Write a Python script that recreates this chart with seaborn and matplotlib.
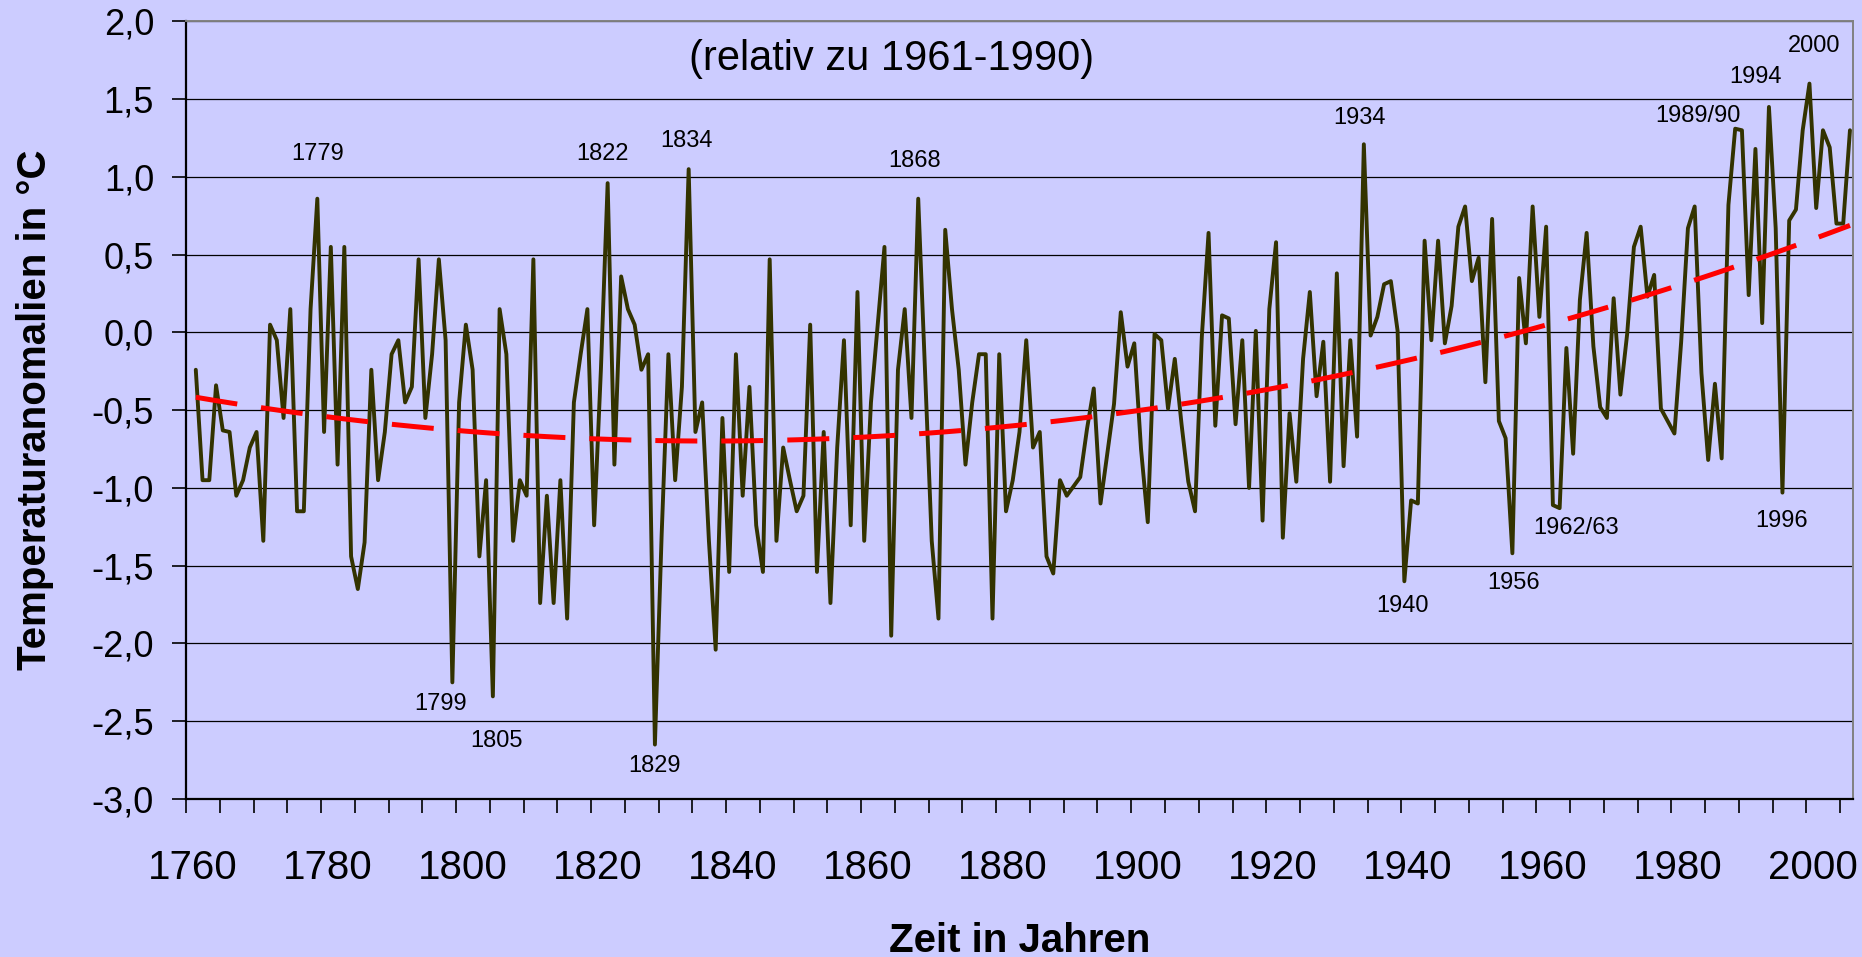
import numpy as np
import pandas as pd
import matplotlib
matplotlib.use("Agg")
import matplotlib.pyplot as plt
import seaborn as sns

# Jahresmittel-Anomalien (relativ zu 1961-1990)
years = list(range(1761, 2007))
anomalies = [
    -0.24, -0.95, -0.95, -0.34, -0.63, -0.64, -1.05, -0.95, -0.74, -0.64,   # 1761-1770
    -1.34, 0.05, -0.05, -0.55, 0.15, -1.15, -1.15, 0.15, 0.86, -0.64,       # 1771-1780
    0.55, -0.85, 0.55, -1.44, -1.65, -1.35, -0.24, -0.95, -0.64, -0.14,     # 1781-1790
    -0.05, -0.45, -0.35, 0.47, -0.55, -0.14, 0.47, -0.05, -2.25, -0.45,     # 1791-1800
    0.05, -0.24, -1.44, -0.95, -2.34, 0.15, -0.14, -1.34, -0.95, -1.05,     # 1801-1810
    0.47, -1.74, -1.05, -1.74, -0.95, -1.84, -0.45, -0.14, 0.15, -1.24,     # 1811-1820
    -0.24, 0.96, -0.85, 0.36, 0.15, 0.05, -0.24, -0.14, -2.65, -1.30,       # 1821-1830
    -0.14, -0.95, -0.35, 1.05, -0.64, -0.45, -1.34, -2.04, -0.55, -1.54,    # 1831-1840
    -0.14, -1.05, -0.35, -1.24, -1.54, 0.47, -1.34, -0.74, -0.95, -1.15,    # 1841-1850
    -1.05, 0.05, -1.54, -0.64, -1.74, -0.74, -0.05, -1.24, 0.26, -1.34,     # 1851-1860
    -0.45, 0.05, 0.55, -1.95, -0.24, 0.15, -0.55, 0.86, -0.24, -1.34,       # 1861-1870
    -1.84, 0.66, 0.15, -0.24, -0.85, -0.45, -0.14, -0.14, -1.84, -0.14,     # 1871-1880
    -1.15, -0.95, -0.64, -0.05, -0.74, -0.64, -1.44, -1.55, -0.95, -1.05,   # 1881-1890
    -0.99, -0.93, -0.62, -0.36, -1.10, -0.78, -0.46, 0.13, -0.22, -0.07,    # 1891-1900
    -0.75, -1.22, -0.01, -0.05, -0.49, -0.17, -0.59, -0.96, -1.15, -0.03,   # 1901-1910
    0.64, -0.60, 0.11, 0.09, -0.59, -0.05, -1.00, 0.01, -1.21, 0.15,        # 1911-1920
    0.58, -1.32, -0.52, -0.96, -0.17, 0.26, -0.41, -0.06, -0.96, 0.38,      # 1921-1930
    -0.86, -0.05, -0.67, 1.21, -0.02, 0.10, 0.31, 0.33, 0.01, -1.60,        # 1931-1940
    -1.08, -1.10, 0.59, -0.05, 0.59, -0.07, 0.17, 0.68, 0.81, 0.33,         # 1941-1950
    0.48, -0.32, 0.73, -0.57, -0.68, -1.42, 0.35, -0.07, 0.81, 0.10,        # 1951-1960
    0.68, -1.11, -1.13, -0.10, -0.78, 0.21, 0.64, -0.09, -0.48, -0.55,      # 1961-1970
    0.22, -0.40, -0.01, 0.55, 0.68, 0.23, 0.37, -0.49, -0.57, -0.65,        # 1971-1980
    -0.06, 0.67, 0.81, -0.26, -0.82, -0.33, -0.81, 0.82, 1.31, 1.30,        # 1981-1990
    0.24, 1.18, 0.06, 1.45, 0.67, -1.03, 0.72, 0.79, 1.30, 1.60,            # 1991-2000
    0.80, 1.30, 1.19, 0.70, 0.70, 1.30,                                     # 2001-2006
]

# Beschriftete Extremjahre
note_text = ["1779", "1799", "1805", "1822", "1829", "1834", "1868", "1934",
             "1940", "1956", "1962/63", "1989/90", "1994", "1996", "2000"]
note_x = [1779.0, 1797.2, 1805.6, 1821.3, 1829.0, 1833.7, 1867.4, 1933.4,
          1939.8, 1956.2, 1965.4, 1983.5, 1992.0, 1995.8, 2000.7]
note_y = [1.15, -2.39, -2.63, 1.15, -2.79, 1.23, 1.10, 1.38,
          -1.76, -1.61, -1.26, 1.39, 1.64, -1.21, 1.84]

ytick_values = np.arange(-3.0, 2.01, 0.5)
ytick_labels = [f"{v:.1f}".replace(".", ",") for v in ytick_values]
xtick_years = list(range(1760, 2001, 20))

df = pd.DataFrame({"Jahr": years, "Anomalie": anomalies})

sns.set_theme(style="white")
plt.rcParams["font.family"] = ["Liberation Sans", "DejaVu Sans"]
for key in ["text.color", "axes.labelcolor", "xtick.color", "ytick.color"]:
    plt.rcParams[key] = "black"

bg = "#CCCCFF"
fig = plt.figure(figsize=(18.62, 9.57), dpi=100, facecolor=bg)
ax = fig.add_axes([186 / 1862, 158 / 957, 1667 / 1862, 777.6 / 957])
ax.set_facecolor(bg)

sns.lineplot(data=df, x="Jahr", y="Anomalie", color="#333300", lw=2.8, ax=ax, zorder=3)
# polynomial trend (2nd order) over the whole series
sns.regplot(data=df, x="Jahr", y="Anomalie", order=2, scatter=False, ci=None, ax=ax,
            line_kws=dict(color="#FF0000", lw=3.6, ls=(0, (8.4, 4.8)), zorder=4))

ax.set_xlim(1759.55, 2006.45)
ax.set_ylim(-3.0, 2.0)

# y axis
ax.set_yticks(ytick_values, ytick_labels)
ax.yaxis.grid(True, color="#000000", lw=0.9)
ax.set_axisbelow(True)
ax.tick_params(axis="y", direction="out", length=10, width=1.2, color="black",
               pad=13, labelsize=26, left=True)

# x axis: labels centered on the year, small ticks every 5 years
ax.set_xticks([y + 0.5 for y in xtick_years], [str(y) for y in xtick_years])
ax.set_xticks(np.arange(1759.55, 2006.5, 5), minor=True)
ax.tick_params(axis="x", which="major", length=0, pad=36, labelsize=29)
ax.tick_params(axis="x", which="minor", direction="out", length=10, width=1.2,
               color="black", bottom=True)

for side in ["left", "bottom"]:
    ax.spines[side].set_color("black")
    ax.spines[side].set_linewidth(1.6)
for side in ["top", "right"]:
    ax.spines[side].set_color("#808080")
    ax.spines[side].set_linewidth(1.4)

ax.set_ylabel("Temperaturanomalien in °C", fontsize=29, fontweight="bold")
ax.yaxis.set_label_coords(-0.079, 0.5)
ax.set_xlabel("Zeit in Jahren", fontsize=29, fontweight="bold")
ax.xaxis.set_label_coords(0.5, -0.158)

ax.text(1864.0, 1.76, "(relativ zu 1961-1990)", fontsize=30, ha="center", va="center")
for t, x, y in zip(note_text, note_x, note_y):
    ax.text(x, y, t, fontsize=17, ha="center", va="center", zorder=5)

fig.savefig("out.png", dpi=100, facecolor=bg)
